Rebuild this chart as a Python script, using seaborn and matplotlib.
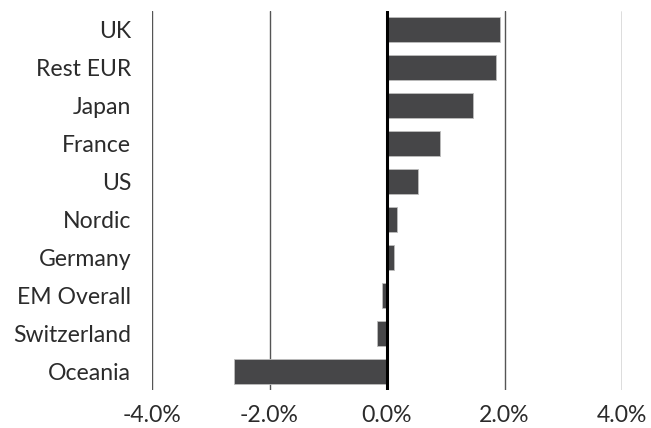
import matplotlib
matplotlib.use("Agg")
import matplotlib.pyplot as plt
import seaborn as sns
import pandas as pd
from matplotlib.ticker import FuncFormatter

regions = ["UK", "Rest EUR", "Japan", "France", "US", "Nordic", "Germany",
           "EM Overall", "Switzerland", "Oceania"]
values = [1.92, 1.86, 1.47, 0.90, 0.53, 0.17, 0.12, -0.08, -0.17, -2.60]
xticks = [-4, -2, 0, 2, 4]

df = pd.DataFrame({"region": regions, "value": values})

sns.set_theme(style="white")
plt.rcParams["font.family"] = ["Lato", "DejaVu Sans"]

fig = plt.figure(figsize=(6.51, 4.28), dpi=100)
ax = fig.add_axes([152/651, 1 - 390/428, (622 - 152)/651, (390 - 11)/428])

sns.barplot(data=df, x="value", y="region", orient="h", color="#464648",
            width=0.66, edgecolor="#bdbdbd", linewidth=0.6, saturation=1, ax=ax)

ax.set_xlim(-4, 4)
ax.set_ylim(9.5, -0.5)
ax.set_xticks(xticks)
ax.xaxis.set_major_formatter(FuncFormatter(lambda v, p: f"{v:.1f}%"))
for x in xticks:
    if x == 0:
        continue
    ax.axvline(x, color="#555555", linewidth=1.0, zorder=0)
ax.axvline(0, color="black", linewidth=2.2, zorder=3)

for s in ax.spines.values():
    s.set_visible(False)
ax.set_xlabel("")
ax.set_ylabel("")
ax.tick_params(axis="y", length=0, pad=15, labelsize=16.6, labelcolor="#2b2b2b")
ax.tick_params(axis="x", length=0, pad=11, labelsize=16.6, labelcolor="#2b2b2b")

fig.savefig("out.png", dpi=100)
